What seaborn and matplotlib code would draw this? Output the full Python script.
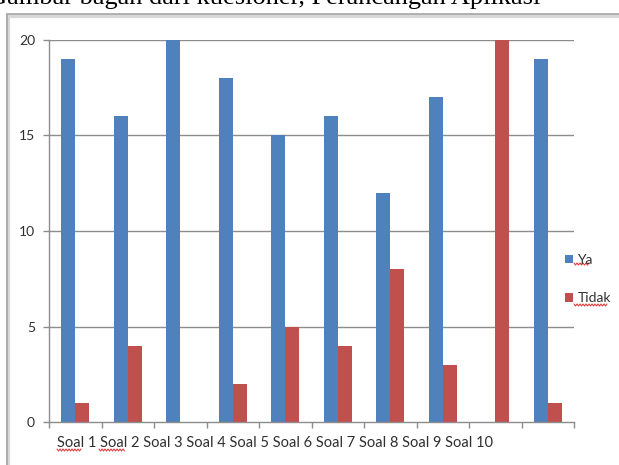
import numpy as np
import pandas as pd
import matplotlib
matplotlib.use("Agg")
import matplotlib.pyplot as plt
from matplotlib.patches import Patch, Rectangle
from matplotlib.lines import Line2D
import seaborn as sns

# Survey results per question
categories = ["Soal 1", "Soal 2", "Soal 3", "Soal 4", "Soal 5",
              "Soal 6", "Soal 7", "Soal 8", "Soal 9", "Soal 10"]
ya = [19, 16, 20, 18, 15, 16, 12, 17, 0, 19]
tidak = [1, 4, 0, 2, 5, 4, 8, 3, 20, 1]
series_names = ["Ya", "Tidak"]
y_ticks = [0, 5, 10, 15, 20]
caption = "Gambar bagan dari kuesioner, Perancangan Aplikasi"

df = pd.DataFrame({
    "soal": categories * 2,
    "jawaban": [series_names[0]] * len(ya) + [series_names[1]] * len(tidak),
    "jumlah": ya + tidak,
})

sns.set_style("white")
plt.rcParams["font.family"] = ["Lato", "DejaVu Sans"]

W, H = 619, 465
fig = plt.figure(figsize=(W / 100, H / 100), dpi=100)
fig.patch.set_facecolor("white")

def px(x, y):
    return x / W, 1 - y / H

# outer chart frame
fig.patches.append(Rectangle(px(8, 700), 700 / W, (700 - 15.5) / H, transform=fig.transFigure,
                             fill=False, edgecolor="#d8d8d8", linewidth=3.0, zorder=0))
fig.patches.append(Rectangle(px(7, 700), 700 / W, (700 - 14) / H, transform=fig.transFigure,
                             fill=False, edgecolor="#a6a6a6", linewidth=1.2, zorder=1))

left, right, top, bottom = 49, 574, 40, 422
ax = fig.add_axes([left / W, (H - bottom) / H, (right - left) / W, (bottom - top) / H])

palette = {"Ya": "#4F81BD", "Tidak": "#C0504D"}
sns.barplot(data=df, x="soal", y="jumlah", hue="jawaban", palette=palette,
            width=0.54, gap=0, saturation=1, ax=ax, legend=False)

for p in ax.patches:
    p.set_edgecolor("none")

ax.set_ylim(0, 20)
ax.set_xlim(-0.5, len(categories) - 0.5)
ax.set_yticks(y_ticks)
ax.set_yticklabels([str(t) for t in y_ticks])
for t in y_ticks[1:]:
    ax.axhline(t, color="#8c8c8c", linewidth=1.0, zorder=0.5)

ax.set_xticks(np.arange(-0.5, len(categories) + 0.5, 1.0))
ax.set_xticklabels([])
ax.set_xlabel("")
ax.set_ylabel("")

for s in ["top", "right"]:
    ax.spines[s].set_visible(False)
for s in ["left", "bottom"]:
    ax.spines[s].set_color("#8c8c8c")
    ax.spines[s].set_linewidth(1.0)

ax.tick_params(axis="y", which="both", left=True, length=4, width=1.0, color="#8c8c8c",
               pad=6, labelsize=10, labelcolor="#303030")
ax.tick_params(axis="x", which="both", bottom=True, length=4, width=1.0, color="#8c8c8c")

# category labels as one row under the axis
fig.canvas.draw()
renderer = fig.canvas.get_renderer()
label_row = " ".join(categories)
xt = fig.text(*px(57, 443), label_row, ha="left", va="center", fontsize=10, color="#303030")
w = xt.get_window_extent(renderer).width
xt.set_fontsize(10 * (490 - 57) / w)

# legend
handles = [Patch(facecolor=palette[n], edgecolor="none") for n in series_names]
fig.legend(handles, series_names, loc="upper left", bbox_to_anchor=px(558, 247),
           bbox_transform=fig.transFigure, frameon=False, fontsize=10,
           handlelength=0.55, handleheight=0.55, handletextpad=0.35,
           labelspacing=1.9, borderpad=0, labelcolor="#303030")

# caption line above the chart, running off the top edge
fig.text(*px(540, 4), caption, ha="right", va="baseline", fontsize=19,
         family="Liberation Serif", color="black")

# spell-check underlines
def squiggle(x0, x1, y):
    xs = np.arange(x0, x1 + 0.1, 1.5)
    ys = y + np.where(np.arange(len(xs)) % 2 == 0, -1.0, 1.0)
    fig.lines.append(Line2D(xs / W, 1 - ys / H, transform=fig.transFigure,
                            color="#e04040", linewidth=0.8))

squiggle(57, 82, 450)
squiggle(99, 125, 450)
squiggle(574, 589, 264)
squiggle(574, 607, 305)

fig.savefig("out.png", dpi=100, facecolor="white")
